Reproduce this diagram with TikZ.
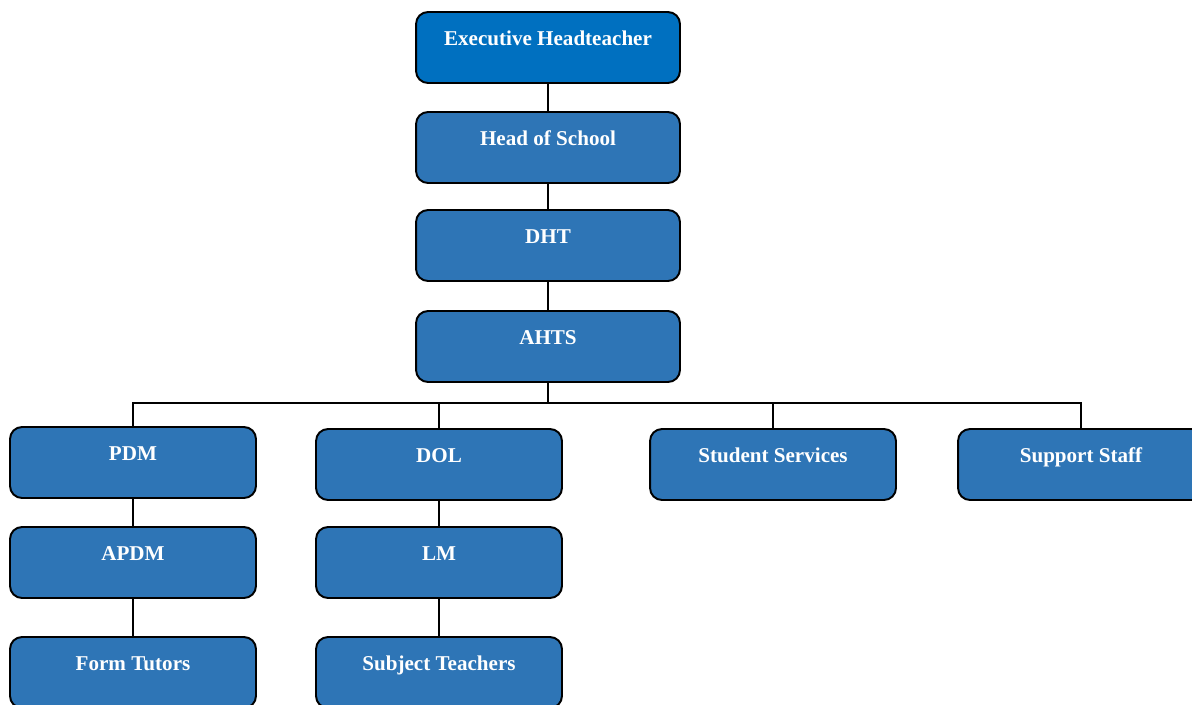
\documentclass[tikz,border=0pt]{standalone}
\usepackage{fontspec}
\setmainfont{Liberation Serif}
\definecolor{topblue}{RGB}{0,112,192}
\definecolor{roleblue}{RGB}{46,117,182}
\tikzset{
    role/.style={draw=black, line width=1.1pt, fill=roleblue, rounded corners=0.24cm,
        minimum width=4.92cm, minimum height=1.42cm, text=white,
        font=\bfseries\fontsize{12}{14}\selectfont, text height=0.28cm, text depth=0.38cm},
    link/.style={line width=1.1pt}
}
\begin{document}
\begin{tikzpicture}[x=0.02cm,y=-0.02cm]
\useasboundingbox (0,0) rectangle (1192,704);

% top of the chain
\node[role, fill=topblue, minimum width=5.28cm] (eh) at (548,47.5) {Executive Headteacher};
\node[role, minimum width=5.28cm] (hos) at (548,147.5) {Head of School};
\node[role, minimum width=5.28cm] (dht) at (548,245.5) {DHT};
\node[role, minimum width=5.28cm] (ahts) at (548,346.5) {AHTS};

% second row
\node[role] (pdm) at (133,462.5) {PDM};
\node[role] (dol) at (439,464.5) {DOL};
\node[role] (ss) at (773,464.5) {Student Services};
\node[role] (sup) at (1081,464.5) {Support Staff};

% lower rows
\node[role] (apdm) at (133,562.5) {APDM};
\node[role] (lm) at (439,562.5) {LM};
\node[role] (ft) at (133,672.5) {Form Tutors};
\node[role] (st) at (439,672.5) {Subject Teachers};

\foreach \a/\b in {eh/hos, hos/dht, dht/ahts, pdm/apdm, apdm/ft, dol/lm, lm/st}
{
    \draw[link] (\a.south) -- (\b.north);
}

\coordinate (bus) at (548,403);
\draw[link] (ahts.south) -- (bus);
\foreach \n in {pdm,dol,ss,sup}
{
    \draw[link] (bus) -| (\n.north);
}
\end{tikzpicture}
\end{document}
